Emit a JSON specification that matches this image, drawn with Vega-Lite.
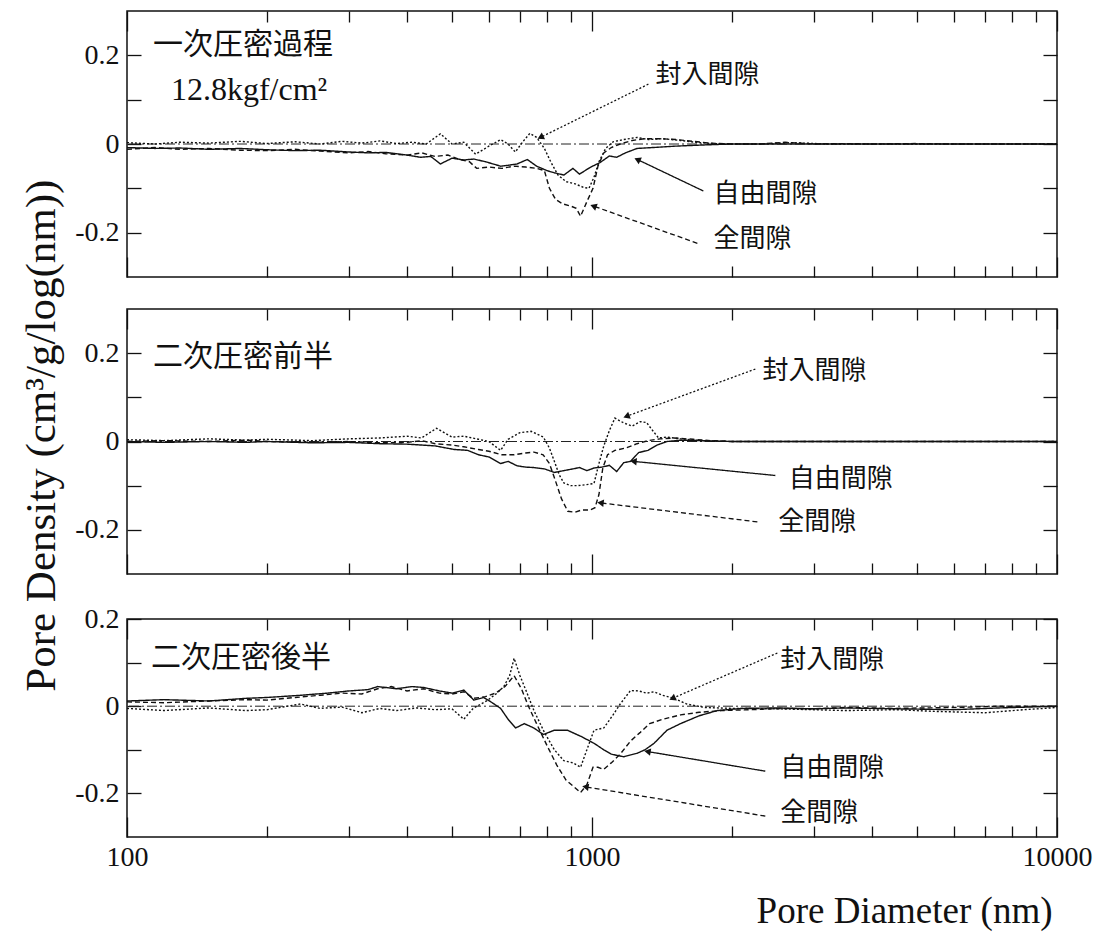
{
  "$schema": "https://vega.github.io/schema/vega-lite/v6.json",
  "background": "white",
  "padding": {"left": 20, "top": 9, "right": 5, "bottom": 5},
  "title": {"text": "Pore Density (cm³/g/log(nm))", "orient": "left", "anchor": "middle", "font": "Liberation Serif", "fontSize": 43, "fontWeight": "normal", "color": "#111", "offset": 10, "dx": 34},
  "config": {
    "font": "Liberation Serif",
    "view": {"stroke": "#111", "strokeWidth": 1.5},
    "axis": {
      "domain": false, "grid": false, "tickColor": "#111", "tickWidth": 1.3,
      "labelFont": "Liberation Serif", "labelFontSize": 28, "labelColor": "#111",
      "titleFont": "Liberation Serif", "titleFontSize": 37, "titleFontWeight": "normal", "titleColor": "#111",
      "labelFlush": false
    }
  },
  "datasets": {
    "zero": [{"panel": 1, "v": 0}, {"panel": 2, "v": 0}, {"panel": 3, "v": 0}],
    "arrows": [
      {"panel": 1, "series": "封入間隙", "x1": 1322, "y1": 0.135, "x2": 775, "y2": 0.015},
      {"panel": 1, "series": "自由間隙", "x1": 1736, "y1": -0.106, "x2": 1252, "y2": -0.035},
      {"panel": 1, "series": "全間隙", "x1": 1685, "y1": -0.224, "x2": 1007, "y2": -0.14},
      {"panel": 2, "series": "封入間隙", "x1": 2245, "y1": 0.164, "x2": 1186, "y2": 0.057},
      {"panel": 2, "series": "自由間隙", "x1": 2479, "y1": -0.077, "x2": 1228, "y2": -0.045},
      {"panel": 2, "series": "全間隙", "x1": 2268, "y1": -0.182, "x2": 1043, "y2": -0.139},
      {"panel": 3, "series": "封入間隙", "x1": 2504, "y1": 0.122, "x2": 1489, "y2": 0.018},
      {"panel": 3, "series": "自由間隙", "x1": 2359, "y1": -0.149, "x2": 1316, "y2": -0.104},
      {"panel": 3, "series": "全間隙", "x1": 2359, "y1": -0.252, "x2": 968, "y2": -0.185}
    ],
    "notes": [
      {"panel": 1, "role": "title", "text": "一次圧密過程", "d": 113.7, "v": 0.224},
      {"panel": 1, "role": "sub", "text": "12.8kgf/cm²", "d": 124.3, "v": 0.122},
      {"panel": 1, "role": "note", "text": "封入間隙", "d": 1369, "v": 0.156},
      {"panel": 1, "role": "note", "text": "自由間隙", "d": 1824, "v": -0.112},
      {"panel": 1, "role": "note", "text": "全間隙", "d": 1824, "v": -0.215},
      {"panel": 2, "role": "title", "text": "二次圧密前半", "d": 113.7, "v": 0.191},
      {"panel": 2, "role": "note", "text": "封入間隙", "d": 2325, "v": 0.159},
      {"panel": 2, "role": "note", "text": "自由間隙", "d": 2650, "v": -0.086},
      {"panel": 2, "role": "note", "text": "全間隙", "d": 2515, "v": -0.182},
      {"panel": 3, "role": "title", "text": "二次圧密後半", "d": 112.6, "v": 0.11},
      {"panel": 3, "role": "note", "text": "封入間隙", "d": 2541, "v": 0.106},
      {"panel": 3, "role": "note", "text": "自由間隙", "d": 2541, "v": -0.142},
      {"panel": 3, "role": "note", "text": "全間隙", "d": 2541, "v": -0.245}
    ],
    "curves": [
      {"panel":1,"series":"全間隙","d":100,"v":-0.012},{"panel":1,"series":"全間隙","d":115,"v":-0.008},{"panel":1,"series":"全間隙","d":130,"v":-0.012},{"panel":1,"series":"全間隙","d":150,"v":-0.01},{"panel":1,"series":"全間隙","d":175,"v":-0.014},{"panel":1,"series":"全間隙","d":200,"v":-0.015},{"panel":1,"series":"全間隙","d":230,"v":-0.012},{"panel":1,"series":"全間隙","d":260,"v":-0.016},{"panel":1,"series":"全間隙","d":300,"v":-0.02},{"panel":1,"series":"全間隙","d":330,"v":-0.017},{"panel":1,"series":"全間隙","d":360,"v":-0.022},{"panel":1,"series":"全間隙","d":400,"v":-0.025},{"panel":1,"series":"全間隙","d":430,"v":-0.02},{"panel":1,"series":"全間隙","d":460,"v":-0.028},{"panel":1,"series":"全間隙","d":490,"v":-0.025},{"panel":1,"series":"全間隙","d":520,"v":-0.035},{"panel":1,"series":"全間隙","d":545,"v":-0.04},{"panel":1,"series":"全間隙","d":565,"v":-0.055},{"panel":1,"series":"全間隙","d":600,"v":-0.052},{"panel":1,"series":"全間隙","d":640,"v":-0.055},{"panel":1,"series":"全間隙","d":680,"v":-0.05},{"panel":1,"series":"全間隙","d":720,"v":-0.052},{"panel":1,"series":"全間隙","d":760,"v":-0.055},{"panel":1,"series":"全間隙","d":790,"v":-0.06},{"panel":1,"series":"全間隙","d":810,"v":-0.1},{"panel":1,"series":"全間隙","d":835,"v":-0.125},{"panel":1,"series":"全間隙","d":865,"v":-0.135},{"panel":1,"series":"全間隙","d":900,"v":-0.14},{"panel":1,"series":"全間隙","d":925,"v":-0.145},{"panel":1,"series":"全間隙","d":945,"v":-0.163},{"panel":1,"series":"全間隙","d":975,"v":-0.13},{"panel":1,"series":"全間隙","d":1005,"v":-0.1},{"panel":1,"series":"全間隙","d":1030,"v":-0.05},{"panel":1,"series":"全間隙","d":1060,"v":-0.02},{"panel":1,"series":"全間隙","d":1100,"v":-0.008},{"panel":1,"series":"全間隙","d":1150,"v":0.0},{"panel":1,"series":"全間隙","d":1220,"v":0.008},{"panel":1,"series":"全間隙","d":1300,"v":0.012},{"panel":1,"series":"全間隙","d":1400,"v":0.012},{"panel":1,"series":"全間隙","d":1520,"v":0.01},{"panel":1,"series":"全間隙","d":1650,"v":0.006},{"panel":1,"series":"全間隙","d":1800,"v":0.002},{"panel":1,"series":"全間隙","d":2000,"v":0.0},{"panel":1,"series":"全間隙","d":2300,"v":0.0},{"panel":1,"series":"全間隙","d":2600,"v":0.004},{"panel":1,"series":"全間隙","d":3000,"v":0.0},{"panel":1,"series":"全間隙","d":3500,"v":0.001},{"panel":1,"series":"全間隙","d":4000,"v":0.0},{"panel":1,"series":"全間隙","d":5000,"v":0.001},{"panel":1,"series":"全間隙","d":6000,"v":0.0},{"panel":1,"series":"全間隙","d":7500,"v":0.0},{"panel":1,"series":"全間隙","d":10000,"v":0.0},
      {"panel":1,"series":"自由間隙","d":100,"v":-0.008},{"panel":1,"series":"自由間隙","d":115,"v":-0.01},{"panel":1,"series":"自由間隙","d":130,"v":-0.009},{"panel":1,"series":"自由間隙","d":150,"v":-0.012},{"panel":1,"series":"自由間隙","d":175,"v":-0.01},{"panel":1,"series":"自由間隙","d":200,"v":-0.013},{"panel":1,"series":"自由間隙","d":230,"v":-0.015},{"panel":1,"series":"自由間隙","d":260,"v":-0.014},{"panel":1,"series":"自由間隙","d":300,"v":-0.018},{"panel":1,"series":"自由間隙","d":330,"v":-0.02},{"panel":1,"series":"自由間隙","d":360,"v":-0.019},{"panel":1,"series":"自由間隙","d":400,"v":-0.025},{"panel":1,"series":"自由間隙","d":428,"v":-0.03},{"panel":1,"series":"自由間隙","d":450,"v":-0.028},{"panel":1,"series":"自由間隙","d":472,"v":-0.045},{"panel":1,"series":"自由間隙","d":500,"v":-0.032},{"panel":1,"series":"自由間隙","d":530,"v":-0.036},{"panel":1,"series":"自由間隙","d":557,"v":-0.034},{"panel":1,"series":"自由間隙","d":590,"v":-0.04},{"panel":1,"series":"自由間隙","d":636,"v":-0.05},{"panel":1,"series":"自由間隙","d":660,"v":-0.048},{"panel":1,"series":"自由間隙","d":690,"v":-0.045},{"panel":1,"series":"自由間隙","d":726,"v":-0.035},{"panel":1,"series":"自由間隙","d":760,"v":-0.05},{"panel":1,"series":"自由間隙","d":800,"v":-0.06},{"panel":1,"series":"自由間隙","d":830,"v":-0.065},{"panel":1,"series":"自由間隙","d":870,"v":-0.07},{"panel":1,"series":"自由間隙","d":910,"v":-0.055},{"panel":1,"series":"自由間隙","d":940,"v":-0.068},{"panel":1,"series":"自由間隙","d":990,"v":-0.053},{"panel":1,"series":"自由間隙","d":1040,"v":-0.042},{"panel":1,"series":"自由間隙","d":1090,"v":-0.027},{"panel":1,"series":"自由間隙","d":1130,"v":-0.03},{"panel":1,"series":"自由間隙","d":1180,"v":-0.02},{"panel":1,"series":"自由間隙","d":1250,"v":-0.01},{"panel":1,"series":"自由間隙","d":1350,"v":-0.008},{"panel":1,"series":"自由間隙","d":1500,"v":-0.005},{"panel":1,"series":"自由間隙","d":1750,"v":-0.002},{"panel":1,"series":"自由間隙","d":2000,"v":0.0},{"panel":1,"series":"自由間隙","d":2500,"v":0.0},{"panel":1,"series":"自由間隙","d":3000,"v":0.0},{"panel":1,"series":"自由間隙","d":4000,"v":0.0},{"panel":1,"series":"自由間隙","d":5000,"v":0.0},{"panel":1,"series":"自由間隙","d":7000,"v":0.0},{"panel":1,"series":"自由間隙","d":10000,"v":0.0},
      {"panel":1,"series":"封入間隙","d":100,"v":0.003},{"panel":1,"series":"封入間隙","d":115,"v":0.0},{"panel":1,"series":"封入間隙","d":130,"v":0.004},{"panel":1,"series":"封入間隙","d":150,"v":0.002},{"panel":1,"series":"封入間隙","d":175,"v":0.006},{"panel":1,"series":"封入間隙","d":200,"v":0.001},{"panel":1,"series":"封入間隙","d":230,"v":0.005},{"panel":1,"series":"封入間隙","d":260,"v":0.0},{"panel":1,"series":"封入間隙","d":290,"v":0.006},{"panel":1,"series":"封入間隙","d":320,"v":0.002},{"panel":1,"series":"封入間隙","d":350,"v":0.007},{"panel":1,"series":"封入間隙","d":380,"v":0.001},{"panel":1,"series":"封入間隙","d":410,"v":0.004},{"panel":1,"series":"封入間隙","d":440,"v":0.0},{"panel":1,"series":"封入間隙","d":472,"v":0.023},{"panel":1,"series":"封入間隙","d":500,"v":0.0},{"panel":1,"series":"封入間隙","d":530,"v":0.004},{"panel":1,"series":"封入間隙","d":562,"v":-0.023},{"panel":1,"series":"封入間隙","d":600,"v":-0.005},{"panel":1,"series":"封入間隙","d":636,"v":0.01},{"panel":1,"series":"封入間隙","d":660,"v":0.0},{"panel":1,"series":"封入間隙","d":684,"v":-0.018},{"panel":1,"series":"封入間隙","d":710,"v":0.005},{"panel":1,"series":"封入間隙","d":735,"v":0.024},{"panel":1,"series":"封入間隙","d":760,"v":0.015},{"panel":1,"series":"封入間隙","d":790,"v":-0.01},{"panel":1,"series":"封入間隙","d":815,"v":-0.04},{"panel":1,"series":"封入間隙","d":845,"v":-0.07},{"panel":1,"series":"封入間隙","d":880,"v":-0.085},{"panel":1,"series":"封入間隙","d":920,"v":-0.09},{"panel":1,"series":"封入間隙","d":960,"v":-0.098},{"panel":1,"series":"封入間隙","d":985,"v":-0.1},{"panel":1,"series":"封入間隙","d":1010,"v":-0.075},{"panel":1,"series":"封入間隙","d":1035,"v":-0.04},{"panel":1,"series":"封入間隙","d":1070,"v":-0.01},{"panel":1,"series":"封入間隙","d":1110,"v":0.005},{"panel":1,"series":"封入間隙","d":1170,"v":0.01},{"panel":1,"series":"封入間隙","d":1250,"v":0.015},{"panel":1,"series":"封入間隙","d":1320,"v":0.01},{"panel":1,"series":"封入間隙","d":1420,"v":0.012},{"panel":1,"series":"封入間隙","d":1550,"v":0.008},{"panel":1,"series":"封入間隙","d":1700,"v":0.003},{"panel":1,"series":"封入間隙","d":1900,"v":0.0},{"panel":1,"series":"封入間隙","d":2300,"v":0.0},{"panel":1,"series":"封入間隙","d":2700,"v":0.003},{"panel":1,"series":"封入間隙","d":3200,"v":0.0},{"panel":1,"series":"封入間隙","d":4000,"v":0.0},{"panel":1,"series":"封入間隙","d":5000,"v":0.0},{"panel":1,"series":"封入間隙","d":7000,"v":0.0},{"panel":1,"series":"封入間隙","d":10000,"v":0.0},
      {"panel":2,"series":"全間隙","d":100,"v":0.0},{"panel":2,"series":"全間隙","d":120,"v":0.002},{"panel":2,"series":"全間隙","d":150,"v":0.0},{"panel":2,"series":"全間隙","d":180,"v":0.003},{"panel":2,"series":"全間隙","d":200,"v":0.0},{"panel":2,"series":"全間隙","d":250,"v":-0.002},{"panel":2,"series":"全間隙","d":300,"v":0.0},{"panel":2,"series":"全間隙","d":350,"v":-0.003},{"panel":2,"series":"全間隙","d":400,"v":-0.002},{"panel":2,"series":"全間隙","d":430,"v":0.002},{"panel":2,"series":"全間隙","d":460,"v":-0.005},{"panel":2,"series":"全間隙","d":500,"v":-0.008},{"panel":2,"series":"全間隙","d":530,"v":-0.012},{"panel":2,"series":"全間隙","d":570,"v":-0.018},{"panel":2,"series":"全間隙","d":600,"v":-0.022},{"panel":2,"series":"全間隙","d":640,"v":-0.03},{"panel":2,"series":"全間隙","d":680,"v":-0.03},{"panel":2,"series":"全間隙","d":720,"v":-0.026},{"panel":2,"series":"全間隙","d":750,"v":-0.024},{"panel":2,"series":"全間隙","d":785,"v":-0.03},{"panel":2,"series":"全間隙","d":810,"v":-0.05},{"panel":2,"series":"全間隙","d":835,"v":-0.09},{"panel":2,"series":"全間隙","d":860,"v":-0.13},{"panel":2,"series":"全間隙","d":887,"v":-0.158},{"panel":2,"series":"全間隙","d":920,"v":-0.16},{"panel":2,"series":"全間隙","d":950,"v":-0.155},{"panel":2,"series":"全間隙","d":990,"v":-0.155},{"panel":2,"series":"全間隙","d":1015,"v":-0.15},{"panel":2,"series":"全間隙","d":1035,"v":-0.12},{"panel":2,"series":"全間隙","d":1055,"v":-0.06},{"panel":2,"series":"全間隙","d":1080,"v":-0.03},{"panel":2,"series":"全間隙","d":1120,"v":-0.02},{"panel":2,"series":"全間隙","d":1180,"v":-0.015},{"panel":2,"series":"全間隙","d":1250,"v":-0.005},{"panel":2,"series":"全間隙","d":1320,"v":0.002},{"panel":2,"series":"全間隙","d":1400,"v":0.006},{"panel":2,"series":"全間隙","d":1500,"v":0.008},{"panel":2,"series":"全間隙","d":1650,"v":0.005},{"panel":2,"series":"全間隙","d":1800,"v":0.002},{"panel":2,"series":"全間隙","d":2000,"v":0.0},{"panel":2,"series":"全間隙","d":2500,"v":0.0},{"panel":2,"series":"全間隙","d":3000,"v":0.0},{"panel":2,"series":"全間隙","d":4000,"v":0.0},{"panel":2,"series":"全間隙","d":5000,"v":0.0},{"panel":2,"series":"全間隙","d":7000,"v":0.0},{"panel":2,"series":"全間隙","d":10000,"v":0.0},
      {"panel":2,"series":"自由間隙","d":100,"v":0.0},{"panel":2,"series":"自由間隙","d":120,"v":-0.002},{"panel":2,"series":"自由間隙","d":150,"v":0.0},{"panel":2,"series":"自由間隙","d":180,"v":-0.002},{"panel":2,"series":"自由間隙","d":200,"v":0.0},{"panel":2,"series":"自由間隙","d":250,"v":-0.003},{"panel":2,"series":"自由間隙","d":300,"v":-0.002},{"panel":2,"series":"自由間隙","d":350,"v":-0.005},{"panel":2,"series":"自由間隙","d":400,"v":-0.006},{"panel":2,"series":"自由間隙","d":430,"v":-0.008},{"panel":2,"series":"自由間隙","d":460,"v":-0.01},{"panel":2,"series":"自由間隙","d":505,"v":-0.018},{"panel":2,"series":"自由間隙","d":540,"v":-0.02},{"panel":2,"series":"自由間隙","d":570,"v":-0.03},{"panel":2,"series":"自由間隙","d":600,"v":-0.035},{"panel":2,"series":"自由間隙","d":636,"v":-0.05},{"panel":2,"series":"自由間隙","d":660,"v":-0.045},{"panel":2,"series":"自由間隙","d":690,"v":-0.055},{"panel":2,"series":"自由間隙","d":720,"v":-0.058},{"panel":2,"series":"自由間隙","d":750,"v":-0.059},{"panel":2,"series":"自由間隙","d":790,"v":-0.062},{"panel":2,"series":"自由間隙","d":830,"v":-0.07},{"panel":2,"series":"自由間隙","d":870,"v":-0.066},{"panel":2,"series":"自由間隙","d":910,"v":-0.062},{"panel":2,"series":"自由間隙","d":940,"v":-0.059},{"panel":2,"series":"自由間隙","d":975,"v":-0.066},{"panel":2,"series":"自由間隙","d":1010,"v":-0.06},{"panel":2,"series":"自由間隙","d":1050,"v":-0.058},{"panel":2,"series":"自由間隙","d":1090,"v":-0.054},{"panel":2,"series":"自由間隙","d":1130,"v":-0.068},{"panel":2,"series":"自由間隙","d":1170,"v":-0.048},{"panel":2,"series":"自由間隙","d":1210,"v":-0.045},{"panel":2,"series":"自由間隙","d":1260,"v":-0.025},{"panel":2,"series":"自由間隙","d":1320,"v":-0.02},{"panel":2,"series":"自由間隙","d":1380,"v":-0.008},{"panel":2,"series":"自由間隙","d":1450,"v":0.0},{"panel":2,"series":"自由間隙","d":1550,"v":0.003},{"panel":2,"series":"自由間隙","d":1700,"v":0.002},{"panel":2,"series":"自由間隙","d":2000,"v":0.0},{"panel":2,"series":"自由間隙","d":2500,"v":0.0},{"panel":2,"series":"自由間隙","d":3000,"v":0.0},{"panel":2,"series":"自由間隙","d":4000,"v":0.0},{"panel":2,"series":"自由間隙","d":5000,"v":0.0},{"panel":2,"series":"自由間隙","d":7000,"v":0.0},{"panel":2,"series":"自由間隙","d":10000,"v":0.0},
      {"panel":2,"series":"封入間隙","d":100,"v":0.004},{"panel":2,"series":"封入間隙","d":120,"v":0.002},{"panel":2,"series":"封入間隙","d":150,"v":0.006},{"panel":2,"series":"封入間隙","d":180,"v":0.003},{"panel":2,"series":"封入間隙","d":200,"v":0.005},{"panel":2,"series":"封入間隙","d":250,"v":0.002},{"panel":2,"series":"封入間隙","d":300,"v":0.006},{"panel":2,"series":"封入間隙","d":350,"v":0.008},{"panel":2,"series":"封入間隙","d":400,"v":0.012},{"panel":2,"series":"封入間隙","d":430,"v":0.008},{"panel":2,"series":"封入間隙","d":463,"v":0.03},{"panel":2,"series":"封入間隙","d":500,"v":0.01},{"panel":2,"series":"封入間隙","d":530,"v":0.012},{"panel":2,"series":"封入間隙","d":570,"v":0.005},{"panel":2,"series":"封入間隙","d":600,"v":0.0},{"panel":2,"series":"封入間隙","d":636,"v":-0.02},{"panel":2,"series":"封入間隙","d":660,"v":0.005},{"panel":2,"series":"封入間隙","d":700,"v":0.02},{"panel":2,"series":"封入間隙","d":740,"v":0.023},{"panel":2,"series":"封入間隙","d":786,"v":0.01},{"panel":2,"series":"封入間隙","d":810,"v":-0.015},{"panel":2,"series":"封入間隙","d":830,"v":-0.045},{"panel":2,"series":"封入間隙","d":850,"v":-0.075},{"panel":2,"series":"封入間隙","d":870,"v":-0.094},{"panel":2,"series":"封入間隙","d":900,"v":-0.1},{"panel":2,"series":"封入間隙","d":930,"v":-0.1},{"panel":2,"series":"封入間隙","d":970,"v":-0.098},{"panel":2,"series":"封入間隙","d":1010,"v":-0.095},{"panel":2,"series":"封入間隙","d":1035,"v":-0.05},{"panel":2,"series":"封入間隙","d":1060,"v":-0.01},{"panel":2,"series":"封入間隙","d":1090,"v":0.025},{"panel":2,"series":"封入間隙","d":1120,"v":0.053},{"panel":2,"series":"封入間隙","d":1170,"v":0.042},{"panel":2,"series":"封入間隙","d":1220,"v":0.035},{"panel":2,"series":"封入間隙","d":1270,"v":0.045},{"panel":2,"series":"封入間隙","d":1310,"v":0.043},{"panel":2,"series":"封入間隙","d":1350,"v":0.025},{"panel":2,"series":"封入間隙","d":1390,"v":0.008},{"panel":2,"series":"封入間隙","d":1450,"v":0.01},{"panel":2,"series":"封入間隙","d":1550,"v":0.006},{"panel":2,"series":"封入間隙","d":1700,"v":0.002},{"panel":2,"series":"封入間隙","d":2000,"v":0.0},{"panel":2,"series":"封入間隙","d":2500,"v":0.0},{"panel":2,"series":"封入間隙","d":3000,"v":0.0},{"panel":2,"series":"封入間隙","d":4000,"v":0.0},{"panel":2,"series":"封入間隙","d":5000,"v":0.0},{"panel":2,"series":"封入間隙","d":7000,"v":0.0},{"panel":2,"series":"封入間隙","d":10000,"v":0.0},
      {"panel":3,"series":"全間隙","d":100,"v":0.01},{"panel":3,"series":"全間隙","d":120,"v":0.008},{"panel":3,"series":"全間隙","d":150,"v":0.012},{"panel":3,"series":"全間隙","d":180,"v":0.015},{"panel":3,"series":"全間隙","d":200,"v":0.014},{"panel":3,"series":"全間隙","d":230,"v":0.02},{"panel":3,"series":"全間隙","d":260,"v":0.025},{"panel":3,"series":"全間隙","d":290,"v":0.03},{"panel":3,"series":"全間隙","d":320,"v":0.028},{"panel":3,"series":"全間隙","d":346,"v":0.04},{"panel":3,"series":"全間隙","d":370,"v":0.045},{"panel":3,"series":"全間隙","d":400,"v":0.035},{"panel":3,"series":"全間隙","d":434,"v":0.04},{"panel":3,"series":"全間隙","d":470,"v":0.03},{"panel":3,"series":"全間隙","d":500,"v":0.028},{"panel":3,"series":"全間隙","d":530,"v":0.033},{"panel":3,"series":"全間隙","d":557,"v":0.018},{"panel":3,"series":"全間隙","d":590,"v":0.022},{"panel":3,"series":"全間隙","d":620,"v":0.03},{"panel":3,"series":"全間隙","d":650,"v":0.045},{"panel":3,"series":"全間隙","d":680,"v":0.07},{"panel":3,"series":"全間隙","d":705,"v":0.04},{"panel":3,"series":"全間隙","d":730,"v":0.0},{"panel":3,"series":"全間隙","d":760,"v":-0.04},{"panel":3,"series":"全間隙","d":800,"v":-0.09},{"panel":3,"series":"全間隙","d":840,"v":-0.135},{"panel":3,"series":"全間隙","d":880,"v":-0.17},{"panel":3,"series":"全間隙","d":915,"v":-0.185},{"panel":3,"series":"全間隙","d":945,"v":-0.198},{"panel":3,"series":"全間隙","d":975,"v":-0.18},{"panel":3,"series":"全間隙","d":1005,"v":-0.14},{"panel":3,"series":"全間隙","d":1030,"v":-0.14},{"panel":3,"series":"全間隙","d":1060,"v":-0.145},{"panel":3,"series":"全間隙","d":1100,"v":-0.13},{"panel":3,"series":"全間隙","d":1150,"v":-0.11},{"panel":3,"series":"全間隙","d":1210,"v":-0.08},{"panel":3,"series":"全間隙","d":1270,"v":-0.06},{"panel":3,"series":"全間隙","d":1330,"v":-0.04},{"panel":3,"series":"全間隙","d":1420,"v":-0.03},{"panel":3,"series":"全間隙","d":1550,"v":-0.02},{"panel":3,"series":"全間隙","d":1700,"v":-0.014},{"panel":3,"series":"全間隙","d":1900,"v":-0.01},{"panel":3,"series":"全間隙","d":2200,"v":-0.008},{"panel":3,"series":"全間隙","d":2600,"v":-0.005},{"panel":3,"series":"全間隙","d":3000,"v":-0.006},{"panel":3,"series":"全間隙","d":3500,"v":-0.003},{"panel":3,"series":"全間隙","d":4500,"v":-0.005},{"panel":3,"series":"全間隙","d":6000,"v":-0.003},{"panel":3,"series":"全間隙","d":7500,"v":0.0},{"panel":3,"series":"全間隙","d":10000,"v":0.0},
      {"panel":3,"series":"自由間隙","d":100,"v":0.012},{"panel":3,"series":"自由間隙","d":120,"v":0.015},{"panel":3,"series":"自由間隙","d":150,"v":0.012},{"panel":3,"series":"自由間隙","d":180,"v":0.018},{"panel":3,"series":"自由間隙","d":200,"v":0.02},{"panel":3,"series":"自由間隙","d":236,"v":0.025},{"panel":3,"series":"自由間隙","d":270,"v":0.03},{"panel":3,"series":"自由間隙","d":300,"v":0.035},{"panel":3,"series":"自由間隙","d":330,"v":0.038},{"panel":3,"series":"自由間隙","d":346,"v":0.045},{"panel":3,"series":"自由間隙","d":380,"v":0.04},{"panel":3,"series":"自由間隙","d":410,"v":0.045},{"panel":3,"series":"自由間隙","d":434,"v":0.043},{"panel":3,"series":"自由間隙","d":470,"v":0.035},{"panel":3,"series":"自由間隙","d":500,"v":0.03},{"panel":3,"series":"自由間隙","d":530,"v":0.037},{"panel":3,"series":"自由間隙","d":557,"v":0.014},{"panel":3,"series":"自由間隙","d":585,"v":0.02},{"panel":3,"series":"自由間隙","d":606,"v":0.01},{"panel":3,"series":"自由間隙","d":636,"v":-0.005},{"panel":3,"series":"自由間隙","d":660,"v":-0.03},{"panel":3,"series":"自由間隙","d":685,"v":-0.05},{"panel":3,"series":"自由間隙","d":715,"v":-0.04},{"panel":3,"series":"自由間隙","d":750,"v":-0.05},{"panel":3,"series":"自由間隙","d":786,"v":-0.065},{"panel":3,"series":"自由間隙","d":830,"v":-0.055},{"panel":3,"series":"自由間隙","d":885,"v":-0.055},{"panel":3,"series":"自由間隙","d":950,"v":-0.07},{"panel":3,"series":"自由間隙","d":1010,"v":-0.085},{"panel":3,"series":"自由間隙","d":1060,"v":-0.1},{"panel":3,"series":"自由間隙","d":1100,"v":-0.11},{"panel":3,"series":"自由間隙","d":1170,"v":-0.116},{"panel":3,"series":"自由間隙","d":1250,"v":-0.108},{"panel":3,"series":"自由間隙","d":1300,"v":-0.1},{"panel":3,"series":"自由間隙","d":1360,"v":-0.085},{"panel":3,"series":"自由間隙","d":1450,"v":-0.055},{"panel":3,"series":"自由間隙","d":1550,"v":-0.04},{"panel":3,"series":"自由間隙","d":1700,"v":-0.022},{"panel":3,"series":"自由間隙","d":1860,"v":-0.01},{"panel":3,"series":"自由間隙","d":2100,"v":-0.005},{"panel":3,"series":"自由間隙","d":2500,"v":-0.004},{"panel":3,"series":"自由間隙","d":3000,"v":-0.006},{"panel":3,"series":"自由間隙","d":3500,"v":-0.004},{"panel":3,"series":"自由間隙","d":4500,"v":-0.006},{"panel":3,"series":"自由間隙","d":6000,"v":-0.008},{"panel":3,"series":"自由間隙","d":7500,"v":-0.004},{"panel":3,"series":"自由間隙","d":10000,"v":0.0},
      {"panel":3,"series":"封入間隙","d":100,"v":-0.005},{"panel":3,"series":"封入間隙","d":120,"v":-0.01},{"panel":3,"series":"封入間隙","d":150,"v":-0.004},{"panel":3,"series":"封入間隙","d":180,"v":-0.01},{"panel":3,"series":"封入間隙","d":200,"v":-0.008},{"panel":3,"series":"封入間隙","d":236,"v":0.005},{"panel":3,"series":"封入間隙","d":260,"v":-0.005},{"panel":3,"series":"封入間隙","d":290,"v":-0.002},{"panel":3,"series":"封入間隙","d":320,"v":-0.015},{"panel":3,"series":"封入間隙","d":350,"v":-0.005},{"panel":3,"series":"封入間隙","d":380,"v":-0.01},{"panel":3,"series":"封入間隙","d":420,"v":-0.004},{"panel":3,"series":"封入間隙","d":460,"v":-0.008},{"panel":3,"series":"封入間隙","d":500,"v":-0.006},{"panel":3,"series":"封入間隙","d":530,"v":-0.03},{"panel":3,"series":"封入間隙","d":555,"v":-0.005},{"panel":3,"series":"封入間隙","d":595,"v":0.013},{"panel":3,"series":"封入間隙","d":625,"v":0.03},{"panel":3,"series":"封入間隙","d":646,"v":0.045},{"panel":3,"series":"封入間隙","d":665,"v":0.07},{"panel":3,"series":"封入間隙","d":680,"v":0.11},{"panel":3,"series":"封入間隙","d":700,"v":0.07},{"panel":3,"series":"封入間隙","d":725,"v":0.03},{"panel":3,"series":"封入間隙","d":750,"v":-0.01},{"panel":3,"series":"封入間隙","d":790,"v":-0.06},{"panel":3,"series":"封入間隙","d":830,"v":-0.1},{"panel":3,"series":"封入間隙","d":870,"v":-0.125},{"panel":3,"series":"封入間隙","d":910,"v":-0.13},{"panel":3,"series":"封入間隙","d":945,"v":-0.14},{"panel":3,"series":"封入間隙","d":975,"v":-0.1},{"panel":3,"series":"封入間隙","d":1010,"v":-0.055},{"panel":3,"series":"封入間隙","d":1060,"v":-0.05},{"panel":3,"series":"封入間隙","d":1110,"v":-0.02},{"panel":3,"series":"封入間隙","d":1150,"v":0.005},{"panel":3,"series":"封入間隙","d":1210,"v":0.036},{"panel":3,"series":"封入間隙","d":1260,"v":0.035},{"panel":3,"series":"封入間隙","d":1310,"v":0.03},{"panel":3,"series":"封入間隙","d":1360,"v":0.033},{"panel":3,"series":"封入間隙","d":1420,"v":0.025},{"panel":3,"series":"封入間隙","d":1500,"v":0.018},{"panel":3,"series":"封入間隙","d":1600,"v":0.005},{"panel":3,"series":"封入間隙","d":1750,"v":-0.003},{"panel":3,"series":"封入間隙","d":2000,"v":-0.005},{"panel":3,"series":"封入間隙","d":2500,"v":-0.006},{"panel":3,"series":"封入間隙","d":3000,"v":-0.008},{"panel":3,"series":"封入間隙","d":3500,"v":-0.01},{"panel":3,"series":"封入間隙","d":4500,"v":-0.008},{"panel":3,"series":"封入間隙","d":5500,"v":-0.012},{"panel":3,"series":"封入間隙","d":7000,"v":-0.015},{"panel":3,"series":"封入間隙","d":8500,"v":-0.008},{"panel":3,"series":"封入間隙","d":10000,"v":-0.003}
    ]
  },
  "vconcat": [
    {
      "width": 930, "height": 266,
      "layer": [
        {"data": {"name": "zero"}, "transform": [{"filter": "datum.panel == 1"}],
         "mark": {"type": "rule", "stroke": "#222", "strokeWidth": 1, "strokeDash": [10, 3, 2, 3]},
         "encoding": {"y": {"field": "v", "type": "quantitative", "scale": {"domain": [-0.3, 0.3], "nice": false, "zero": false}, "axis": null}}},
        {"data": {"name": "curves"}, "transform": [{"filter": "datum.panel == 1"}],
         "mark": {"type": "line", "stroke": "#111", "strokeWidth": 1.4},
         "encoding": {
           "x": {"field": "d", "type": "quantitative", "scale": {"type": "log", "domain": [100, 10000], "nice": false},
                 "axis": {"orient": "bottom", "values": [200,300,400,500,600,700,800,900,2000,3000,4000,5000,6000,7000,8000,9000], "tickSize": -11, "labels": false, "title": null}},
           "y": {"field": "v", "type": "quantitative", "scale": {"domain": [-0.3, 0.3], "nice": false, "zero": false},
                 "axis": {"orient": "left", "values": [-0.2, 0, 0.2], "tickSize": -14, "labelPadding": 22, "labelBaseline": "middle",
                          "labelExpr": "datum.value > 0.1 ? '0.2' : (datum.value < -0.1 ? '-0.2' : '0')", "title": null}},
           "strokeDash": {"field": "series", "type": "nominal", "scale": {"domain": ["全間隙", "自由間隙", "封入間隙"], "range": [[5, 3], [1, 0], [2, 2]]}, "legend": null}
         }},
        {"data": {"name": "arrows"}, "transform": [{"filter": "datum.panel == 1"}],
         "mark": {"type": "rule", "stroke": "#111", "strokeWidth": 1.3},
         "encoding": {
           "x": {"field": "x1", "type": "quantitative", "scale": {"type": "log", "domain": [100, 10000], "nice": false},
                 "axis": {"orient": "bottom", "values": [100, 1000, 10000], "tickSize": -20, "labels": false, "title": null}},
           "y": {"field": "y1", "type": "quantitative", "scale": {"domain": [-0.3, 0.3], "nice": false, "zero": false},
                 "axis": {"orient": "left", "values": [-0.1, 0.1], "tickSize": -14, "labels": false, "title": null}},
           "x2": {"field": "x2"}, "y2": {"field": "y2"},
           "strokeDash": {"field": "series", "type": "nominal", "legend": null}
         }},
        {"data": {"name": "arrows"}, "transform": [{"filter": "datum.panel == 1"},
           {"calculate": "atan2(-(datum.y2 - datum.y1) * 445, log(datum.x2 / datum.x1) / LN10 * 465) * 180 / PI", "as": "ang"}],
         "mark": {"type": "point", "shape": "triangle-right", "filled": true, "size": 55, "color": "#111", "opacity": 1},
         "encoding": {
           "x": {"field": "x2", "type": "quantitative", "scale": {"type": "log", "domain": [100, 10000], "nice": false},
                 "axis": {"orient": "top", "values": [100, 1000, 10000], "tickSize": -20, "labels": false, "title": null}},
           "y": {"field": "y2", "type": "quantitative", "scale": {"domain": [-0.3, 0.3], "nice": false, "zero": false},
                 "axis": {"orient": "right", "values": [-0.2, 0, 0.2], "tickSize": -14, "labels": false, "title": null}},
           "angle": {"field": "ang", "type": "quantitative", "scale": null}
         }},
        {"data": {"name": "notes"}, "transform": [{"filter": "datum.panel == 1 && datum.role == 'note'"}],
         "mark": {"type": "text", "font": "Noto Sans CJK JP", "fontSize": 26, "align": "left", "baseline": "middle", "fill": "#111"},
         "encoding": {
           "x": {"field": "d", "type": "quantitative", "scale": {"type": "log", "domain": [100, 10000], "nice": false},
                 "axis": {"orient": "top", "values": [200,300,400,500,600,700,800,900,2000,3000,4000,5000,6000,7000,8000,9000], "tickSize": -11, "labels": false, "title": null}},
           "y": {"field": "v", "type": "quantitative", "scale": {"domain": [-0.3, 0.3], "nice": false, "zero": false},
                 "axis": {"orient": "right", "values": [-0.1, 0.1], "tickSize": -14, "labels": false, "title": null}},
           "text": {"field": "text"}
         }},
        {"data": {"name": "notes"}, "transform": [{"filter": "datum.panel == 1 && datum.role == 'title'"}],
         "mark": {"type": "text", "font": "Noto Sans CJK JP", "fontSize": 30, "align": "left", "baseline": "middle", "fill": "#111"},
         "encoding": {
           "x": {"field": "d", "type": "quantitative", "scale": {"type": "log", "domain": [100, 10000], "nice": false}, "axis": null},
           "y": {"field": "v", "type": "quantitative", "scale": {"domain": [-0.3, 0.3], "nice": false, "zero": false}, "axis": null},
           "text": {"field": "text"}
         }},
        {"data": {"name": "notes"}, "transform": [{"filter": "datum.panel == 1 && datum.role == 'sub'"}],
         "mark": {"type": "text", "font": "Liberation Serif", "fontSize": 32, "align": "left", "baseline": "middle", "fill": "#111"},
         "encoding": {
           "x": {"field": "d", "type": "quantitative", "scale": {"type": "log", "domain": [100, 10000], "nice": false}, "axis": null},
           "y": {"field": "v", "type": "quantitative", "scale": {"domain": [-0.3, 0.3], "nice": false, "zero": false}, "axis": null},
           "text": {"field": "text"}
         }}
      ],
      "resolve": {"axis": {"x": "independent", "y": "independent"}}
    },
    {
      "width": 930, "height": 265,
      "layer": [
        {"data": {"name": "zero"}, "transform": [{"filter": "datum.panel == 2"}],
         "mark": {"type": "rule", "stroke": "#222", "strokeWidth": 1, "strokeDash": [10, 3, 2, 3]},
         "encoding": {"y": {"field": "v", "type": "quantitative", "scale": {"domain": [-0.3, 0.3], "nice": false, "zero": false}, "axis": null}}},
        {"data": {"name": "curves"}, "transform": [{"filter": "datum.panel == 2"}],
         "mark": {"type": "line", "stroke": "#111", "strokeWidth": 1.4},
         "encoding": {
           "x": {"field": "d", "type": "quantitative", "scale": {"type": "log", "domain": [100, 10000], "nice": false},
                 "axis": {"orient": "bottom", "values": [200,300,400,500,600,700,800,900,2000,3000,4000,5000,6000,7000,8000,9000], "tickSize": -11, "labels": false, "title": null}},
           "y": {"field": "v", "type": "quantitative", "scale": {"domain": [-0.3, 0.3], "nice": false, "zero": false},
                 "axis": {"orient": "left", "values": [-0.2, 0, 0.2], "tickSize": -14, "labelPadding": 22, "labelBaseline": "middle",
                          "labelExpr": "datum.value > 0.1 ? '0.2' : (datum.value < -0.1 ? '-0.2' : '0')", "title": null}},
           "strokeDash": {"field": "series", "type": "nominal", "scale": {"domain": ["全間隙", "自由間隙", "封入間隙"], "range": [[5, 3], [1, 0], [2, 2]]}, "legend": null}
         }},
        {"data": {"name": "arrows"}, "transform": [{"filter": "datum.panel == 2"}],
         "mark": {"type": "rule", "stroke": "#111", "strokeWidth": 1.3},
         "encoding": {
           "x": {"field": "x1", "type": "quantitative", "scale": {"type": "log", "domain": [100, 10000], "nice": false},
                 "axis": {"orient": "bottom", "values": [100, 1000, 10000], "tickSize": -20, "labels": false, "title": null}},
           "y": {"field": "y1", "type": "quantitative", "scale": {"domain": [-0.3, 0.3], "nice": false, "zero": false},
                 "axis": {"orient": "left", "values": [-0.1, 0.1], "tickSize": -14, "labels": false, "title": null}},
           "x2": {"field": "x2"}, "y2": {"field": "y2"},
           "strokeDash": {"field": "series", "type": "nominal", "legend": null}
         }},
        {"data": {"name": "arrows"}, "transform": [{"filter": "datum.panel == 2"},
           {"calculate": "atan2(-(datum.y2 - datum.y1) * 445, log(datum.x2 / datum.x1) / LN10 * 465) * 180 / PI", "as": "ang"}],
         "mark": {"type": "point", "shape": "triangle-right", "filled": true, "size": 55, "color": "#111", "opacity": 1},
         "encoding": {
           "x": {"field": "x2", "type": "quantitative", "scale": {"type": "log", "domain": [100, 10000], "nice": false},
                 "axis": {"orient": "top", "values": [100, 1000, 10000], "tickSize": -20, "labels": false, "title": null}},
           "y": {"field": "y2", "type": "quantitative", "scale": {"domain": [-0.3, 0.3], "nice": false, "zero": false},
                 "axis": {"orient": "right", "values": [-0.2, 0, 0.2], "tickSize": -14, "labels": false, "title": null}},
           "angle": {"field": "ang", "type": "quantitative", "scale": null}
         }},
        {"data": {"name": "notes"}, "transform": [{"filter": "datum.panel == 2 && datum.role == 'note'"}],
         "mark": {"type": "text", "font": "Noto Sans CJK JP", "fontSize": 26, "align": "left", "baseline": "middle", "fill": "#111"},
         "encoding": {
           "x": {"field": "d", "type": "quantitative", "scale": {"type": "log", "domain": [100, 10000], "nice": false},
                 "axis": {"orient": "top", "values": [200,300,400,500,600,700,800,900,2000,3000,4000,5000,6000,7000,8000,9000], "tickSize": -11, "labels": false, "title": null}},
           "y": {"field": "v", "type": "quantitative", "scale": {"domain": [-0.3, 0.3], "nice": false, "zero": false},
                 "axis": {"orient": "right", "values": [-0.1, 0.1], "tickSize": -14, "labels": false, "title": null}},
           "text": {"field": "text"}
         }},
        {"data": {"name": "notes"}, "transform": [{"filter": "datum.panel == 2 && datum.role == 'title'"}],
         "mark": {"type": "text", "font": "Noto Sans CJK JP", "fontSize": 30, "align": "left", "baseline": "middle", "fill": "#111"},
         "encoding": {
           "x": {"field": "d", "type": "quantitative", "scale": {"type": "log", "domain": [100, 10000], "nice": false}, "axis": null},
           "y": {"field": "v", "type": "quantitative", "scale": {"domain": [-0.3, 0.3], "nice": false, "zero": false}, "axis": null},
           "text": {"field": "text"}
         }}
      ],
      "resolve": {"axis": {"x": "independent", "y": "independent"}}
    },
    {
      "width": 930, "height": 218,
      "layer": [
        {"data": {"name": "zero"}, "transform": [{"filter": "datum.panel == 3"}],
         "mark": {"type": "rule", "stroke": "#222", "strokeWidth": 1, "strokeDash": [10, 3, 2, 3]},
         "encoding": {"y": {"field": "v", "type": "quantitative", "scale": {"domain": [-0.3, 0.2], "nice": false, "zero": false}, "axis": null}}},
        {"data": {"name": "curves"}, "transform": [{"filter": "datum.panel == 3"}],
         "mark": {"type": "line", "stroke": "#111", "strokeWidth": 1.4},
         "encoding": {
           "x": {"field": "d", "type": "quantitative", "scale": {"type": "log", "domain": [100, 10000], "nice": false},
                 "axis": {"orient": "bottom", "values": [200,300,400,500,600,700,800,900,2000,3000,4000,5000,6000,7000,8000,9000], "tickSize": -11, "labels": false, "title": null}},
           "y": {"field": "v", "type": "quantitative", "scale": {"domain": [-0.3, 0.2], "nice": false, "zero": false},
                 "axis": {"orient": "left", "values": [-0.2, 0, 0.2], "tickSize": -14, "labelPadding": 22, "labelBaseline": "middle",
                          "labelExpr": "datum.value > 0.1 ? '0.2' : (datum.value < -0.1 ? '-0.2' : '0')", "title": null}},
           "strokeDash": {"field": "series", "type": "nominal", "scale": {"domain": ["全間隙", "自由間隙", "封入間隙"], "range": [[5, 3], [1, 0], [2, 2]]}, "legend": null}
         }},
        {"data": {"name": "arrows"}, "transform": [{"filter": "datum.panel == 3"}],
         "mark": {"type": "rule", "stroke": "#111", "strokeWidth": 1.3},
         "encoding": {
           "x": {"field": "x1", "type": "quantitative", "scale": {"type": "log", "domain": [100, 10000], "nice": false},
                 "axis": {"orient": "bottom", "values": [100, 1000, 10000], "tickSize": -20, "labels": true, "format": "d", "labelPadding": 26, "labelBaseline": "top",
                          "title": "Pore Diameter (nm)", "titleX": 925, "titleY": 74, "titleAlign": "right", "titleBaseline": "middle"}},
           "y": {"field": "y1", "type": "quantitative", "scale": {"domain": [-0.3, 0.2], "nice": false, "zero": false},
                 "axis": {"orient": "left", "values": [-0.1, 0.1], "tickSize": -14, "labels": false, "title": null}},
           "x2": {"field": "x2"}, "y2": {"field": "y2"},
           "strokeDash": {"field": "series", "type": "nominal", "legend": null}
         }},
        {"data": {"name": "arrows"}, "transform": [{"filter": "datum.panel == 3"},
           {"calculate": "atan2(-(datum.y2 - datum.y1) * 436, log(datum.x2 / datum.x1) / LN10 * 465) * 180 / PI", "as": "ang"}],
         "mark": {"type": "point", "shape": "triangle-right", "filled": true, "size": 55, "color": "#111", "opacity": 1},
         "encoding": {
           "x": {"field": "x2", "type": "quantitative", "scale": {"type": "log", "domain": [100, 10000], "nice": false},
                 "axis": {"orient": "top", "values": [100, 1000, 10000], "tickSize": -20, "labels": false, "title": null}},
           "y": {"field": "y2", "type": "quantitative", "scale": {"domain": [-0.3, 0.2], "nice": false, "zero": false},
                 "axis": {"orient": "right", "values": [-0.2, 0, 0.2], "tickSize": -14, "labels": false, "title": null}},
           "angle": {"field": "ang", "type": "quantitative", "scale": null}
         }},
        {"data": {"name": "notes"}, "transform": [{"filter": "datum.panel == 3 && datum.role == 'note'"}],
         "mark": {"type": "text", "font": "Noto Sans CJK JP", "fontSize": 26, "align": "left", "baseline": "middle", "fill": "#111"},
         "encoding": {
           "x": {"field": "d", "type": "quantitative", "scale": {"type": "log", "domain": [100, 10000], "nice": false},
                 "axis": {"orient": "top", "values": [200,300,400,500,600,700,800,900,2000,3000,4000,5000,6000,7000,8000,9000], "tickSize": -11, "labels": false, "title": null}},
           "y": {"field": "v", "type": "quantitative", "scale": {"domain": [-0.3, 0.2], "nice": false, "zero": false},
                 "axis": {"orient": "right", "values": [-0.1, 0.1], "tickSize": -14, "labels": false, "title": null}},
           "text": {"field": "text"}
         }},
        {"data": {"name": "notes"}, "transform": [{"filter": "datum.panel == 3 && datum.role == 'title'"}],
         "mark": {"type": "text", "font": "Noto Sans CJK JP", "fontSize": 30, "align": "left", "baseline": "middle", "fill": "#111"},
         "encoding": {
           "x": {"field": "d", "type": "quantitative", "scale": {"type": "log", "domain": [100, 10000], "nice": false}, "axis": null},
           "y": {"field": "v", "type": "quantitative", "scale": {"domain": [-0.3, 0.2], "nice": false, "zero": false}, "axis": null},
           "text": {"field": "text"}
         }}
      ],
      "resolve": {"axis": {"x": "independent", "y": "independent"}}
    }
  ],
  "spacing": 28
}
